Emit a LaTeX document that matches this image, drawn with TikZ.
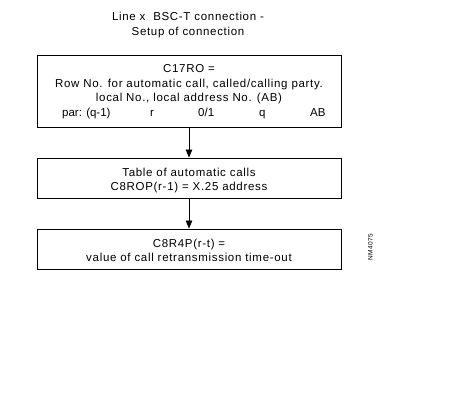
\documentclass[tikz,border=0pt]{standalone}
\usepackage{fontspec}
\setmainfont[LetterSpace=6]{Liberation Sans}
\usetikzlibrary{positioning, arrows.meta}

\begin{document}
\begin{tikzpicture}[x=1pt, y=-1pt, font=\fontsize{11.5}{14.5}\selectfont,
    boite/.style={draw, line width=0.9pt, minimum width=304pt, inner sep=0pt},
    texte/.style={align=center, inner sep=0pt},
    champ/.style={inner sep=0pt, anchor=base west,
                  font=\fontsize{11.5}{14.5}\selectfont\addfontfeatures{LetterSpace=0}},
    fleche/.style={-{Triangle[length=8pt, width=6.5pt]}, line width=0.8pt}]
  \useasboundingbox (0,0) rectangle (468,414);

  % --- titre ------------------------------------------------------------
  \node[texte] (titre) at (188,25)
       {Line x~ BSC-T connection -\\Setup of connection};

  % --- cadres -----------------------------------------------------------
  \node[boite, minimum height=72pt] (c17ro) at (189,91) {};
  \node[boite, minimum height=40pt] (tabauto) at (189,178) {};
  \node[boite, minimum height=40pt] (c8r4p) at (189,249) {};

  % --- textes des cadres ------------------------------------------------
  \node[texte] (t17ro) at (189,84.2)
       {C17RO =\\Row No. for automatic call, called/calling party.\\
        local No., local address No. (AB)};
  \node[champ] (par) at (62,117) {par: (q-1)};
  \node[champ] (parr) at (150,117) {r};
  \node[champ] (parzu) at (198,117) {0/1};
  \node[champ] (parq) at (259,117) {q};
  \node[champ] (parab) at (310,117) {AB};

  \node[texte] (ttab) at (189,180.6)
       {Table of automatic calls\\C8ROP(r-1) = X.25 address};
  \node[texte] (t8r4p) at (189,250.2)
       {C8R4P(r-t) =\\value of call retransmission time-out};

  % --- fleches ----------------------------------------------------------
  \draw[fleche] (c17ro) -- (tabauto);
  \draw[fleche] (tabauto) -- (c8r4p);

  % --- reference --------------------------------------------------------
  \node[rotate=90, inner sep=0pt, font=\fontsize{6.5}{7}\selectfont]
       (nm) at (370.5,247.5) {NM4075};
\end{tikzpicture}
\end{document}
